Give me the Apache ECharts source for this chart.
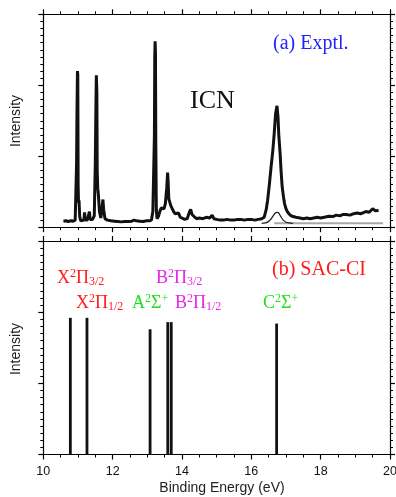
<!DOCTYPE html>
<html><head><meta charset="utf-8">
<script src="https://cdn.jsdelivr.net/npm/echarts@6/dist/echarts.min.js"></script>
<style>html,body{margin:0;padding:0;background:#fff;}#c{width:396px;height:497px;}</style>
</head><body><div id="c"></div>
<script>
// x tick labels (Binding Energy, eV)
const xTickValues = [10, 12, 14, 16, 18, 20];
// y ticks (arbitrary intensity units)
const yTickValues = [0, 1, 2, 3];

// (a) Experimental spectrum
const exptEnergy = [10.58,10.65,10.72,10.80,10.86,10.92,10.94,10.96,10.97,10.985,10.995,11.005,11.015,11.03,11.05,11.08,11.12,11.17,11.19,11.21,11.27,11.31,11.33,11.35,11.42,11.47,11.50,11.515,11.53,11.545,11.555,11.57,11.59,11.62,11.66,11.70,11.72,11.74,11.78,11.85,11.95,12.05,12.15,12.25,12.35,12.45,12.55,12.62,12.65,12.68,12.78,12.88,12.98,13.06,13.12,13.16,13.19,13.205,13.215,13.225,13.235,13.245,13.26,13.28,13.32,13.36,13.40,13.44,13.48,13.52,13.56,13.585,13.60,13.62,13.65,13.68,13.72,13.76,13.80,13.85,13.90,13.95,14.00,14.08,14.15,14.22,14.25,14.29,14.35,14.42,14.50,14.60,14.70,14.80,14.87,14.92,15.00,15.10,15.20,15.30,15.40,15.50,15.60,15.70,15.80,15.90,16.00,16.10,16.20,16.30,16.37,16.43,16.47,16.52,16.57,16.62,16.66,16.70,16.74,16.77,16.79,16.83,16.86,16.89,16.93,16.96,17.00,17.05,17.12,17.20,17.29,17.40,17.50,17.60,17.70,17.80,17.90,18.00,18.10,18.24,18.35,18.45,18.55,18.65,18.73,18.85,18.95,19.05,19.15,19.21,19.30,19.40,19.50,19.58,19.67];
const exptIntensity = [0.085,0.09,0.08,0.09,0.085,0.10,0.12,0.9,1.55,2.20,2.15,0.6,0.35,0.38,0.15,0.09,0.10,0.10,0.21,0.10,0.10,0.12,0.22,0.11,0.11,0.16,0.9,1.6,2.14,1.9,0.8,0.55,0.45,0.22,0.13,0.30,0.39,0.25,0.12,0.10,0.09,0.085,0.08,0.075,0.08,0.08,0.085,0.10,0.12,0.09,0.085,0.08,0.09,0.09,0.10,0.22,0.20,1.3,2.4,2.62,2.45,1.2,0.25,0.12,0.15,0.22,0.27,0.28,0.26,0.33,0.55,0.77,0.65,0.40,0.38,0.30,0.28,0.22,0.19,0.17,0.20,0.14,0.12,0.11,0.12,0.22,0.25,0.18,0.15,0.12,0.13,0.12,0.14,0.13,0.17,0.12,0.11,0.10,0.10,0.11,0.10,0.10,0.11,0.11,0.10,0.11,0.11,0.10,0.11,0.12,0.14,0.25,0.38,0.60,0.85,1.08,1.32,1.60,1.71,1.55,1.32,1.04,0.78,0.57,0.42,0.33,0.26,0.21,0.17,0.15,0.14,0.13,0.12,0.13,0.12,0.13,0.14,0.13,0.14,0.155,0.15,0.17,0.16,0.18,0.18,0.17,0.19,0.20,0.19,0.20,0.22,0.21,0.26,0.23,0.24];
// fitted C-band component
const fitEnergy = [16.30,16.40,16.48,16.56,16.63,16.69,16.74,16.79,16.85,16.92,17.00,17.10,17.20];
const fitIntensity = [0.055,0.06,0.075,0.11,0.16,0.20,0.21,0.20,0.15,0.10,0.07,0.06,0.055];
// background line
const bgEnergy = [16.66, 19.80];
const bgIntensity = [0.055, 0.055];

// (b) SAC-CI stick spectrum
const stateEnergy = [10.78, 11.26, 13.08, 13.59, 13.69, 16.73];
const stateIntensity = [1.92, 1.92, 1.76, 1.86, 1.86, 1.84];

const zip = (a, b) => a.map((v, i) => [v, b[i]]);

const FONT = 'Liberation Sans, Arial, sans-serif';
const SERIF = 'Liberation Serif, Times New Roman, serif';

function xAx(gi, pos, showLabel) {
  return {
    type: 'value', gridIndex: gi, position: pos,
    min: xTickValues[0], max: xTickValues[xTickValues.length - 1],
    interval: xTickValues[1] - xTickValues[0],
    axisLine: { show: true, onZero: false, lineStyle: { color: '#000', width: 1.2 } },
    axisTick: { show: true, inside: false, length: 5, lineStyle: { color: '#000', width: 1.2 } },
    minorTick: { show: true, splitNumber: 4, length: 3, lineStyle: { color: '#000', width: 1 } },
    axisLabel: { show: showLabel, margin: 11, fontFamily: FONT, fontSize: 12.5, color: '#111' },
    splitLine: { show: false }, minorSplitLine: { show: false }
  };
}
function yAx(gi, pos) {
  return {
    type: 'value', gridIndex: gi, position: pos,
    min: yTickValues[0], max: yTickValues[yTickValues.length - 1],
    interval: yTickValues[1] - yTickValues[0],
    axisLine: { show: true, onZero: false, lineStyle: { color: '#000', width: 1.2 } },
    axisTick: { show: true, inside: false, length: 5, lineStyle: { color: '#000', width: 1.2 } },
    minorTick: { show: true, splitNumber: 10, length: 3, lineStyle: { color: '#000', width: 1 } },
    axisLabel: { show: false },
    splitLine: { show: false }, minorSplitLine: { show: false }
  };
}

function richFor(color) {
  return {
    m: { fontFamily: SERIF, fontSize: 18, fill: color, color: color },
    p: { fontFamily: SERIF, fontSize: 12, fill: color, color: color, padding: [0, 0, 10, 0] },
    b: { fontFamily: SERIF, fontSize: 12, fill: color, color: color, padding: [6, 0, 0, 0] }
  };
}
function stateLabel(txt, color, x, y) {
  return { type: 'text', x: x, y: y, silent: true,
    style: { text: txt, rich: richFor(color), fill: color, font: '18px ' + SERIF, align: 'left', verticalAlign: 'middle' } };
}

const RED = '#ff1a1a', GREEN = '#1ee01e', MAG = '#e825e8', BLUE = '#2222ff';

const chart = echarts.init(document.getElementById('c'), null, { renderer: 'canvas' });
chart.setOption({
  animation: false,
  backgroundColor: '#fff',
  grid: [
    { left: 43.3, right: 6, top: 14.3, height: 212.9, outerBoundsMode: 'none' },
    { left: 43.3, right: 6, top: 241, height: 213.5, outerBoundsMode: 'none' }
  ],
  xAxis: [xAx(0, 'bottom', false), xAx(0, 'top', false), xAx(1, 'bottom', true), xAx(1, 'top', false)],
  yAxis: [yAx(0, 'left'), yAx(0, 'right'), yAx(1, 'left'), yAx(1, 'right')],
  series: [
    { type: 'line', xAxisIndex: 0, yAxisIndex: 0, data: zip(bgEnergy, bgIntensity), showSymbol: false,
      lineStyle: { color: '#a8a8a8', width: 2 }, silent: true },
    { type: 'line', xAxisIndex: 0, yAxisIndex: 0, data: zip(exptEnergy, exptIntensity), showSymbol: false,
      lineStyle: { color: '#111', width: 3 }, silent: true },
    { type: 'line', xAxisIndex: 0, yAxisIndex: 0, data: zip(fitEnergy, fitIntensity), showSymbol: false, smooth: 0.3,
      lineStyle: { color: '#222', width: 1.3 }, silent: true },
    { type: 'bar', xAxisIndex: 2, yAxisIndex: 2, data: zip(stateEnergy, stateIntensity), barWidth: 2.8,
      itemStyle: { color: '#111' }, silent: true }
  ],
  graphic: [
    { type: 'text', x: 273, y: 43.5, silent: true, style: { text: '(a) Exptl.', font: '20px ' + SERIF, fill: BLUE, align: 'left', verticalAlign: 'middle' } },
    { type: 'text', x: 190, y: 101.5, silent: true, style: { text: 'ICN', font: '26px ' + SERIF, fill: '#111', align: 'left', verticalAlign: 'middle' } },
    { type: 'text', x: 272, y: 270, silent: true, style: { text: '(b) SAC-CI', font: '20px ' + SERIF, fill: RED, align: 'left', verticalAlign: 'middle' } },
    stateLabel('{m|X}{p|2}{m|Π}{b|3/2}', RED, 57, 278.5),
    stateLabel('{m|X}{p|2}{m|Π}{b|1/2}', RED, 76, 303.5),
    stateLabel('{m|A}{p|2}{m|Σ}{p|+}', GREEN, 132, 303.5),
    stateLabel('{m|B}{p|2}{m|Π}{b|3/2}', MAG, 156, 278.5),
    stateLabel('{m|B}{p|2}{m|Π}{b|1/2}', MAG, 175, 303.5),
    stateLabel('{m|C}{p|2}{m|Σ}{p|+}', GREEN, 263, 303.5),
    { type: 'text', x: 16, y: 121, rotation: Math.PI / 2, silent: true, style: { text: 'Intensity', font: '14px ' + FONT, fill: '#222', align: 'center', verticalAlign: 'middle' } },
    { type: 'text', x: 16, y: 349, rotation: Math.PI / 2, silent: true, style: { text: 'Intensity', font: '14px ' + FONT, fill: '#222', align: 'center', verticalAlign: 'middle' } },
    { type: 'text', x: 222, y: 488, silent: true, style: { text: 'Binding Energy (eV)', font: '14px ' + FONT, fill: '#222', align: 'center', verticalAlign: 'middle' } }
  ]
});
</script>
</body></html>
